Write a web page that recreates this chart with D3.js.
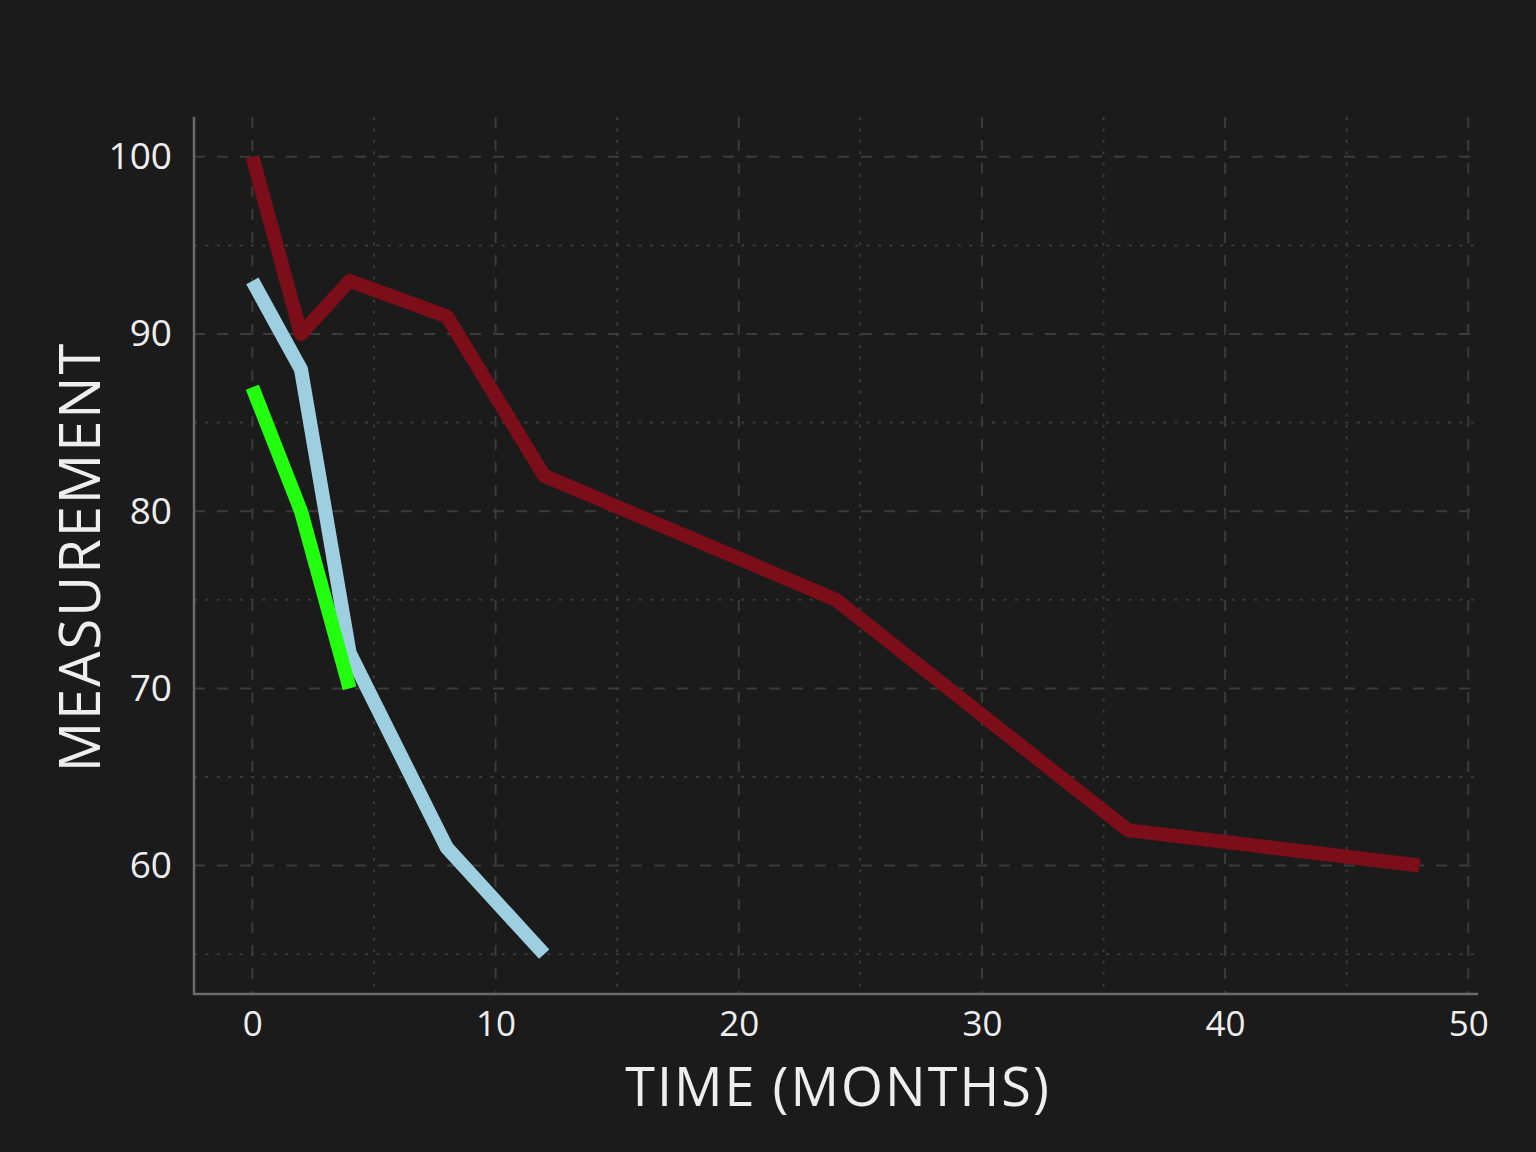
<!DOCTYPE html>
<html><head><meta charset="utf-8">
<script src="https://cdn.jsdelivr.net/npm/d3@7"></script>
<style>
html,body{margin:0;padding:0;background:#1b1b1b;}
svg{display:block;}
text{font-family:"Open Sans","DejaVu Sans",sans-serif;fill:#eeeeee;}
</style></head>
<body>
<script>
const months = [0, 2, 4, 8, 12, 24, 36, 48];
const seriesRed = [100, 90, 93, 91, 82, 75, 62, 60];
const monthsBlue = [0, 2, 4, 8, 12];
const seriesBlue = [93, 88, 72, 61, 55];
const monthsGreen = [0, 2, 4];
const seriesGreen = [87, 80, 70];
const xTicks = [0, 10, 20, 30, 40, 50];
const yTicks = [60, 70, 80, 90, 100];
const xMinor = [5, 15, 25, 35, 45];
const yMinor = [55, 65, 75, 85, 95];
const xLabel = "TIME (MONTHS)";
const yLabel = "MEASUREMENT";

const W = 1536, H = 1152;
const pLeft = 194, pRight = 1478, pTop = 117, pBottom = 994;

const svg = d3.select("body").append("svg").attr("width", W).attr("height", H);
svg.append("rect").attr("width", W).attr("height", H).attr("fill", "#1b1b1b");

const x = d3.scaleLinear().domain([-2.4, 50.4]).range([pLeft, pRight]);
const y = d3.scaleLinear().domain([52.75, 102.25]).range([pBottom, pTop]);

const grid = svg.append("g");
grid.selectAll(".vmaj").data(xTicks).enter().append("line")
  .attr("x1", d => x(d)).attr("x2", d => x(d)).attr("y1", pTop).attr("y2", pBottom)
  .attr("stroke", "#3b3b3b").attr("stroke-width", 2).attr("stroke-dasharray", "11,12");
grid.selectAll(".hmaj").data(yTicks).enter().append("line")
  .attr("x1", pLeft).attr("x2", pRight).attr("y1", d => y(d)).attr("y2", d => y(d))
  .attr("stroke", "#3b3b3b").attr("stroke-width", 2).attr("stroke-dasharray", "11,12");
grid.selectAll(".vmin").data(xMinor).enter().append("line")
  .attr("x1", d => x(d)).attr("x2", d => x(d)).attr("y1", pTop).attr("y2", pBottom)
  .attr("stroke", "#3b3b3b").attr("stroke-width", 2).attr("stroke-dasharray", "3,8.4");
grid.selectAll(".hmin").data(yMinor).enter().append("line")
  .attr("x1", pLeft).attr("x2", pRight).attr("y1", d => y(d)).attr("y2", d => y(d))
  .attr("stroke", "#3b3b3b").attr("stroke-width", 2).attr("stroke-dasharray", "3,8.4");

svg.append("line").attr("x1", pLeft).attr("x2", pLeft).attr("y1", pTop).attr("y2", pBottom + 1)
  .attr("stroke", "#6a6a6a").attr("stroke-width", 2.5);
svg.append("line").attr("x1", pLeft - 1).attr("x2", pRight).attr("y1", pBottom).attr("y2", pBottom)
  .attr("stroke", "#6a6a6a").attr("stroke-width", 2.5);

const xAxis = d3.axisBottom(x).tickValues(xTicks).tickSize(0).tickPadding(17).tickFormat(d3.format("d"));
const gx = svg.append("g").attr("transform", `translate(0,${pBottom})`).call(xAxis);
gx.select(".domain").remove();
gx.selectAll("text").attr("font-size", 35).style("fill", "#eeeeee")
  .style("font-family", '"Open Sans","DejaVu Sans",sans-serif');

const yAxis = d3.axisLeft(y).tickValues(yTicks).tickSize(0).tickPadding(22).tickFormat(d3.format("d"));
const gy = svg.append("g").attr("transform", `translate(${pLeft},0)`).call(yAxis);
gy.select(".domain").remove();
gy.selectAll("text").attr("font-size", 37).style("fill", "#eeeeee")
  .style("font-family", '"Open Sans","DejaVu Sans",sans-serif');

const line = d3.line().x(d => x(d[0])).y(d => y(d[1]));
const series = [
  {xs: months, ys: seriesRed, color: "#7b0e18"},
  {xs: monthsBlue, ys: seriesBlue, color: "#9ecfe1"},
  {xs: monthsGreen, ys: seriesGreen, color: "#22ff0f"}
];
series.forEach(s => {
  svg.append("path").datum(d3.zip(s.xs, s.ys)).attr("d", line)
    .attr("fill", "none").attr("stroke", s.color).attr("stroke-width", 14)
    .attr("stroke-linejoin", "round").attr("stroke-linecap", "butt");
});

svg.append("text").attr("x", 838).attr("y", 1106)
  .attr("text-anchor", "middle").attr("font-size", 54).attr("letter-spacing", 2).text(xLabel);
svg.append("text").attr("transform", `translate(100,557) rotate(-90)`)
  .attr("text-anchor", "middle").attr("font-size", 56).attr("letter-spacing", 2).text(yLabel);
</script>
</body></html>
